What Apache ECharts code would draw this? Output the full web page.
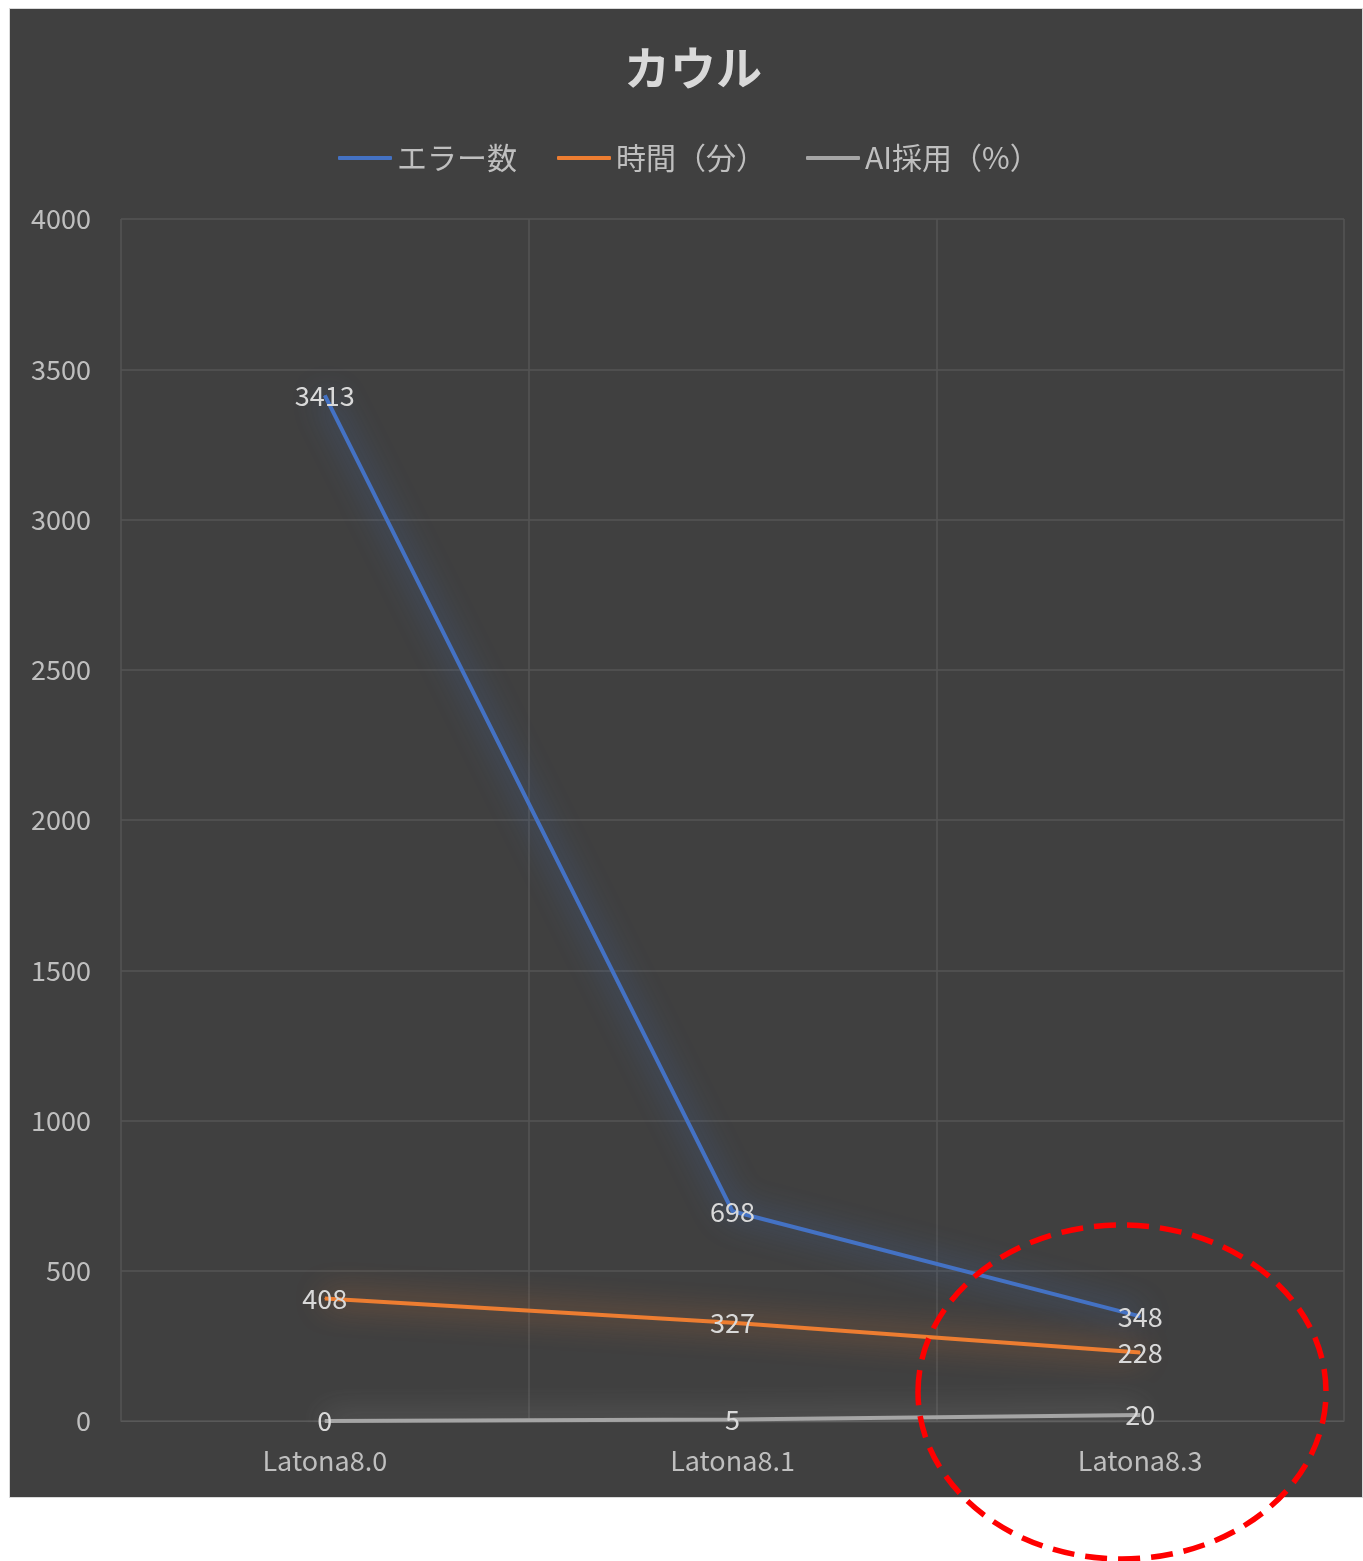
<!DOCTYPE html>
<html>
<head>
<meta charset="utf-8">
<script src="https://cdn.jsdelivr.net/npm/echarts@6/dist/echarts.min.js"></script>
<style>
  html, body { margin: 0; padding: 0; background: #fff; }
  #panel { position: absolute; left: 9px; top: 8px; width: 1352px; height: 1488px; background: #404040; border: 1px solid #d9d9d9; }
  #main { position: absolute; left: 0; top: 0; width: 1363px; height: 1561px; }
</style>
</head>
<body>
<div id="panel"></div>
<div id="main"></div>
<script>
// データ
var categories = ['Latona8.0', 'Latona8.1', 'Latona8.3'];
var errorCount = [3413, 698, 348];
var timeMinutes = [408, 327, 228];
var aiRate = [0, 5, 20];
var yTicks = [0, 500, 1000, 1500, 2000, 2500, 3000, 3500, 4000];

var font = '"Noto Sans CJK JP", "Noto Sans", sans-serif';
var textColor = '#bfbfbf';

function makeSeries(name, data, color, glow) {
  return {
    name: name,
    type: 'line',
    data: data,
    symbol: 'circle',
    symbolSize: 1,
    itemStyle: { color: color },
    lineStyle: { width: 4, color: color, shadowColor: glow, shadowBlur: 30 },
    label: {
      show: true,
      position: 'inside',
      color: '#d9d9d9',
      fontSize: 27,
      fontFamily: font
    },
    emphasis: { disabled: true },
    animation: false
  };
}

var myChart = echarts.init(document.getElementById('main'));
myChart.setOption({
  backgroundColor: 'transparent',
  title: {
    text: 'カウル',
    left: 619,
    top: 40,
    textStyle: { color: '#d9d9d9', fontSize: 46, fontWeight: 'bold', fontFamily: font }
  },
  legend: {
    top: 138,
    left: 333,
    icon: 'roundRect',
    itemWidth: 54,
    itemHeight: 4,
    itemGap: 40,
    textStyle: { color: textColor, fontSize: 30, fontFamily: font },
    data: ['エラー数', '時間（分）', 'AI採用（%）']
  },
  grid: { left: 121, right: 19, top: 219, bottom: 140 },
  xAxis: {
    type: 'category',
    data: categories,
    boundaryGap: true,
    axisLine: { show: true, lineStyle: { color: '#595959' } },
    axisTick: { show: false },
    axisLabel: { color: textColor, fontSize: 27, fontFamily: font, margin: 26 },
    splitLine: { show: true, lineStyle: { color: '#555555', width: 1.5 } }
  },
  yAxis: {
    type: 'value',
    min: yTicks[0],
    max: yTicks[yTicks.length - 1],
    interval: 500,
    axisLine: { show: false },
    axisTick: { show: false },
    axisLabel: {
      color: textColor, fontSize: 27, fontFamily: font, margin: 30,
      formatter: function (v) { return String(v); }
    },
    splitLine: { show: true, lineStyle: { color: '#555555', width: 1.5 } }
  },
  series: [
    makeSeries('エラー数', errorCount, '#4472c4', 'rgba(68,114,196,1)'),
    makeSeries('時間（分）', timeMinutes, '#ed7d31', 'rgba(237,125,49,1)'),
    makeSeries('AI採用（%）', aiRate, '#a5a5a5', 'rgba(165,165,165,1)')
  ],
  graphic: [{
    type: 'ellipse',
    shape: { cx: 1122, cy: 1392, rx: 204, ry: 167 },
    style: { fill: null, stroke: '#ff0000', lineWidth: 5.5, lineDash: [22, 11] },
    z: 100
  }]
});
</script>
</body>
</html>
